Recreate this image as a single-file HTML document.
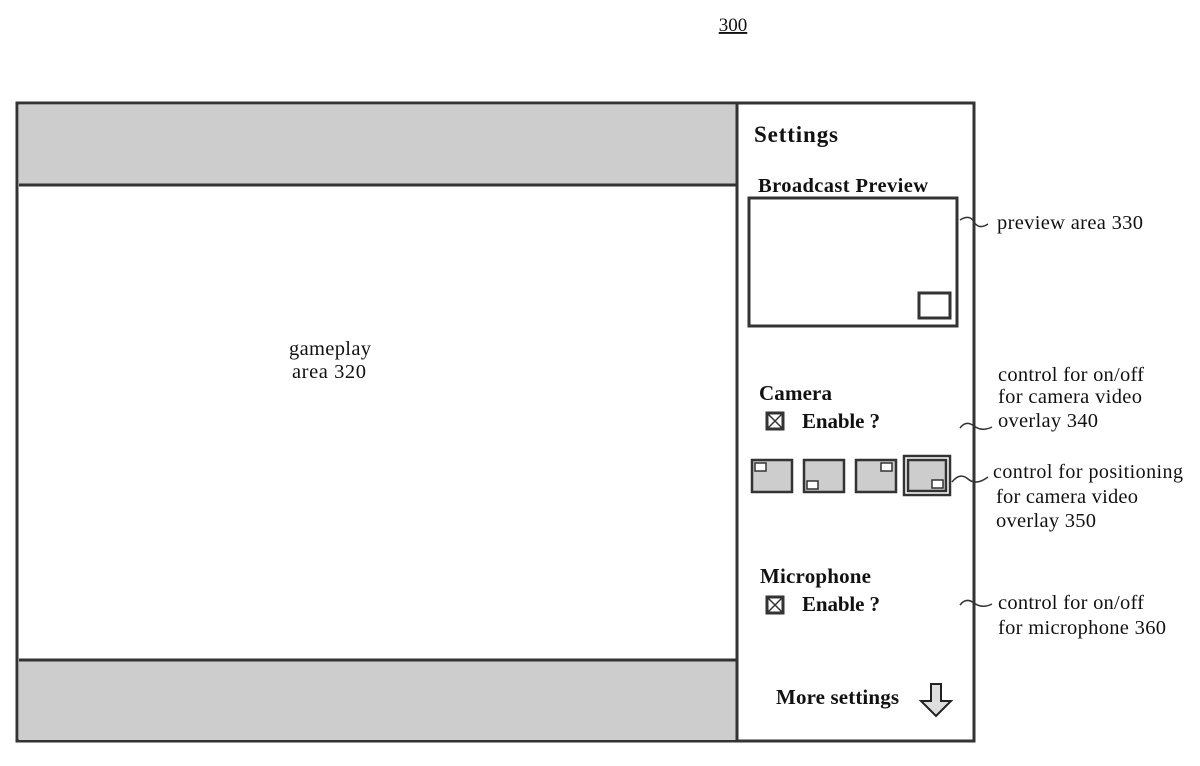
<!DOCTYPE html>
<html><head><style>
body{margin:0;width:1200px;height:761px;background:#fff;overflow:hidden}
svg text{font-family:"Liberation Serif",serif;fill:#111}
</style></head><body>
<svg width="1200" height="761" viewBox="0 0 1200 761">
<text x="733" y="31" font-size="19" text-anchor="middle" text-decoration="underline">300</text>
<rect x="17" y="103" width="957" height="638" fill="#fff" stroke="#333" stroke-width="3"/>
<rect x="19" y="105" width="717" height="80" fill="#cdcdcd"/>
<rect x="19" y="661" width="717" height="79" fill="#cdcdcd"/>
<line x1="19" y1="185" x2="737" y2="185" stroke="#333" stroke-width="3"/>
<line x1="19" y1="660" x2="737" y2="660" stroke="#333" stroke-width="3"/>
<line x1="737" y1="103" x2="737" y2="741" stroke="#333" stroke-width="3"/>
<text x="289" y="355" font-size="20.5" textLength="82">gameplay</text>
<text x="292" y="378" font-size="20.5" textLength="74">area 320</text>
<text x="754" y="142" font-size="23" font-weight="bold" textLength="84">Settings</text>
<text x="758" y="192" font-size="20.5" font-weight="bold" textLength="170">Broadcast Preview</text>
<rect x="749" y="198" width="208" height="128" fill="#fff" stroke="#333" stroke-width="3"/>
<rect x="919" y="293" width="31" height="25" fill="#fff" stroke="#333" stroke-width="3"/>
<path d="M960 220 q10 -6 14 2 q5 8 14 2" fill="none" stroke="#333" stroke-width="1.5"/>
<text x="997" y="229" font-size="20.5" textLength="146">preview area 330</text>
<text x="759" y="400" font-size="21" font-weight="bold" textLength="73">Camera</text>
<rect x="767" y="413" width="16" height="16" fill="#fff" stroke="#333" stroke-width="3"/>
<path d="M768 414 L782 428 M782 414 L768 428" stroke="#333" stroke-width="1.5"/>
<text x="802" y="428" font-size="21" font-weight="bold" textLength="78">Enable ?</text>
<path d="M960 428 q6 -8 14 -2 q8 6 18 1" fill="none" stroke="#333" stroke-width="1.5"/>
<text x="998" y="381" font-size="20.5" textLength="146">control for on/off</text>
<text x="998" y="403" font-size="20.5" textLength="144">for camera video</text>
<text x="998" y="427" font-size="20.5" textLength="100">overlay 340</text>
<g stroke="#333" stroke-width="2.5">
<rect x="752" y="460" width="40" height="32" fill="#cdcdcd"/>
<rect x="804" y="460" width="40" height="32" fill="#cdcdcd"/>
<rect x="856" y="460" width="40" height="32" fill="#cdcdcd"/>
<rect x="904" y="456" width="46" height="39" fill="#fff"/>
<rect x="908" y="460" width="38" height="31" fill="#cdcdcd"/>
</g>
<g stroke="#333" stroke-width="1.5" fill="#fff">
<rect x="755" y="463" width="11" height="8"/>
<rect x="807" y="481" width="11" height="8"/>
<rect x="881" y="463" width="11" height="8"/>
<rect x="932" y="480" width="11" height="8"/>
</g>
<path d="M952 482 q8 -10 16 -3 q8 7 20 -2" fill="none" stroke="#333" stroke-width="1.5"/>
<text x="993" y="478" font-size="20" textLength="190">control for positioning</text>
<text x="996" y="503" font-size="20.5" textLength="142">for camera video</text>
<text x="996" y="527" font-size="20.5" textLength="100">overlay 350</text>
<text x="760" y="583" font-size="21" font-weight="bold" textLength="111">Microphone</text>
<rect x="767" y="597" width="16" height="16" fill="#fff" stroke="#333" stroke-width="3"/>
<path d="M768 598 L782 612 M782 598 L768 612" stroke="#333" stroke-width="1.5"/>
<text x="802" y="611" font-size="21" font-weight="bold" textLength="78">Enable ?</text>
<path d="M960 605 q6 -8 14 -2 q8 6 18 1" fill="none" stroke="#333" stroke-width="1.5"/>
<text x="998" y="609" font-size="20.5" textLength="146">control for on/off</text>
<text x="998" y="634" font-size="20.5" textLength="168">for microphone 360</text>
<text x="776" y="704" font-size="21" font-weight="bold" textLength="123">More settings</text>
<path d="M931 684 L941 684 L941 701 L951 701 L936 716 L921 701 L931 701 Z" fill="#ddd" stroke="#222" stroke-width="2"/>
</svg>
</body></html>
